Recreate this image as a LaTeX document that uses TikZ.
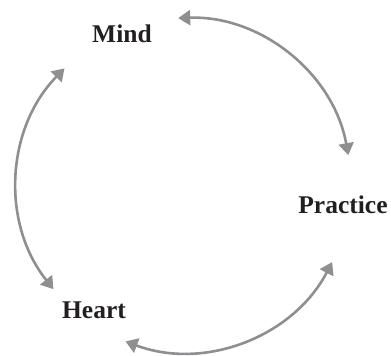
\documentclass[tikz,border=0pt]{standalone}
\usepackage{fontspec}
\setmainfont{Liberation Serif}
\usetikzlibrary{arrows.meta,calc}
\definecolor{arcgray}{RGB}{143,143,146}
\definecolor{inkblack}{RGB}{35,31,32}
\begin{document}
\begin{tikzpicture}[x=1pt,y=1pt,
  link/.style={{Triangle[length=12pt,width=15pt]}-{Triangle[length=12pt,width=15pt]},draw=arcgray,line width=2.6pt},
  word/.style={font=\fontsize{25.5}{30}\selectfont\bfseries,text=inkblack,inner sep=0pt}]
\useasboundingbox (0,0) rectangle (391,356);
\coordinate (hub) at (184,171);
\node[word] (mind) at (122,322.5) {Mind};
\node[word] (prac) at (343,151) {Practice};
\node[word] (heart) at (94,46) {Heart};
\coordinate (m1) at ($(hub)+(92:167)$);
\coordinate (p1) at ($(hub)+(-27.5:167)$);
\coordinate (h1) at ($(hub)+(218.6:167)$);
\draw[link] (m1) arc[start angle=92,end angle=10.3,radius=167];
\draw[link] (p1) arc[start angle=-27.5,end angle=-110.5,radius=167];
\draw[link] (h1) arc[start angle=218.6,end angle=135.7,radius=167];
\end{tikzpicture}
\end{document}
